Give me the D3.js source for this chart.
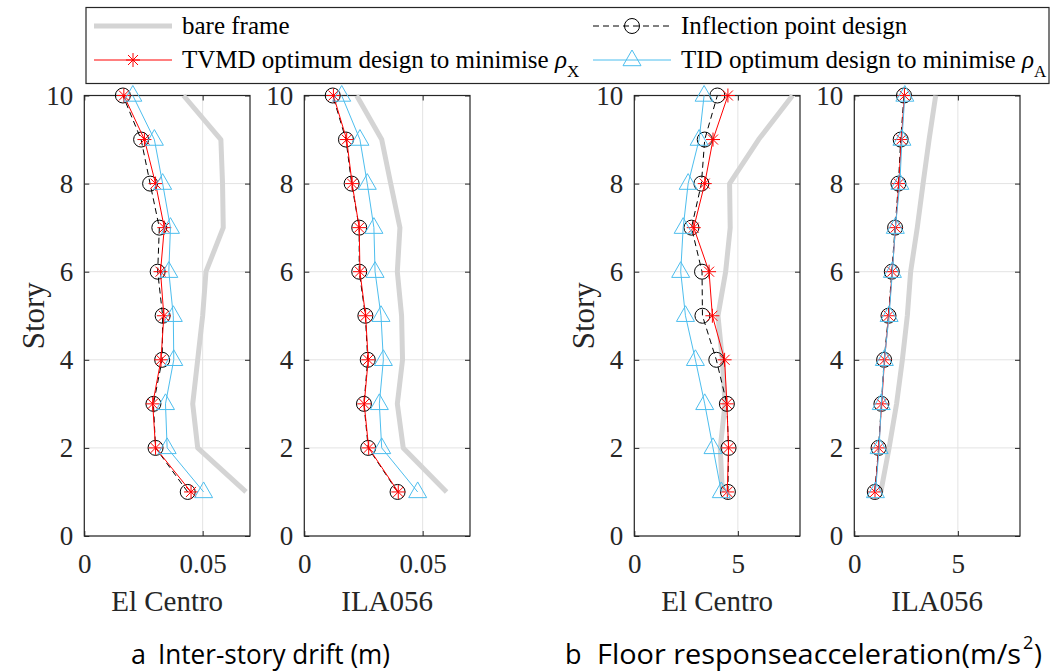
<!DOCTYPE html>
<html><head><meta charset="utf-8">
<script src="https://cdn.jsdelivr.net/npm/d3@7"></script>
<style>body{margin:0;background:#fff}svg{display:block}</style>
</head><body><svg id="c" width="1051" height="672"></svg>
<script>
// ---------- data ----------
const stories = [1,2,3,4,5,6,7,8,9,10];
const seriesNames = ["bare frame","Inflection point design","TVMD optimum design to minimise","TID optimum design to minimise"];
const panelNames = ["El Centro","ILA056","El Centro","ILA056"];
const yTicks = [0,2,4,6,8,10];
const driftTicks = [0,0.05];
const accTicks = [0,5];
const driftTickLabels = ["0","0.05"];
const accTickLabels = ["0","5"];
const captionA = "Inter-story drift (m)";
const captionB = "Floor responseacceleration(m/s";

// Inter-story drift, El Centro (stories 1..10)
const driftElCentroBare  = [0.0683,0.0479,0.0458,0.0479,0.0500,0.0514,0.0587,0.0584,0.0577,0.0419];
const driftElCentroInfl  = [0.0437,0.0301,0.0292,0.0329,0.0331,0.0310,0.0317,0.0278,0.0240,0.0163];
const driftElCentroTVMD  = [0.0451,0.0301,0.0289,0.0324,0.0336,0.0322,0.0338,0.0301,0.0254,0.0167];
const driftElCentroTID   = [0.0504,0.0350,0.0343,0.0378,0.0376,0.0357,0.0364,0.0331,0.0296,0.0205];
// Inter-story drift, ILA056
const driftILABare  = [0.0601,0.0418,0.0393,0.0415,0.0411,0.0393,0.0404,0.0365,0.0327,0.0221];
const driftILAInfl  = [0.0394,0.0270,0.0252,0.0268,0.0258,0.0232,0.0232,0.0200,0.0176,0.0120];
const driftILATVMD  = [0.0397,0.0272,0.0253,0.0270,0.0259,0.0235,0.0232,0.0202,0.0179,0.0123];
const driftILATID   = [0.0479,0.0327,0.0317,0.0334,0.0324,0.0299,0.0294,0.0266,0.0235,0.0158];
// Floor acceleration, El Centro
const accElCentroBare = [4.25,4.15,4.38,4.25,4.04,4.41,4.63,4.60,6.00,7.64];
const accElCentroInfl = [4.52,4.55,4.47,3.96,3.29,3.27,2.76,3.24,3.40,4.01];
const accElCentroTVMD = [4.49,4.55,4.47,4.36,3.77,3.61,2.87,3.40,3.80,4.52];
const accElCentroTID  = [4.20,3.80,3.40,2.95,2.47,2.24,2.36,2.60,3.13,3.37];
// Floor acceleration, ILA056
const accILABare = [1.28,1.68,2.04,2.32,2.56,2.72,3.04,3.32,3.61,3.93];
const accILAInfl = [0.99,1.17,1.31,1.44,1.65,1.81,1.97,2.13,2.24,2.40];
const accILATVMD = [1.00,1.18,1.32,1.46,1.66,1.83,1.99,2.15,2.27,2.42];
const accILATID  = [1.02,1.20,1.30,1.45,1.68,1.84,1.98,2.20,2.30,2.44];

// ---------- layout ----------
const svg = d3.select("#c");
const serif = "'Liberation Serif','Times New Roman',serif";
const yTop = 95.5, yBot = 536, pw = 165.7;
const panels = [
  {x0:84.3,  dom:[0,0.07], ticks:driftTicks, labels:driftTickLabels, story:true,
   data:[driftElCentroBare,driftElCentroInfl,driftElCentroTVMD,driftElCentroTID]},
  {x0:304.3, dom:[0,0.07], ticks:driftTicks, labels:driftTickLabels, story:false,
   data:[driftILABare,driftILAInfl,driftILATVMD,driftILATID]},
  {x0:634.3, dom:[0,8], ticks:accTicks, labels:accTickLabels, story:true,
   data:[accElCentroBare,accElCentroInfl,accElCentroTVMD,accElCentroTID]},
  {x0:854.3, dom:[0,8], ticks:accTicks, labels:accTickLabels, story:false,
   data:[accILABare,accILAInfl,accILATVMD,accILATID]}
];
const styles = [
  {stroke:"#d4d4d4", width:5, dash:null, marker:null},
  {stroke:"#000", width:1, dash:"6,4", marker:"circle"},
  {stroke:"#ff0000", width:1, dash:null, marker:"star"},
  {stroke:"#4dbeee", width:1, dash:null, marker:"tri"}
];
const starPath = "M-7,0H7M0,-7V7M-5,-5L5,5M-5,5L5,-5";
const triPath = "M0,-10L9,5.7L-9,5.7Z";

function drawMarker(g, kind, color, x, y){
  if(kind==="circle") g.append("circle").attr("cx",x).attr("cy",y).attr("r",7.5)
      .attr("fill","none").attr("stroke",color).attr("stroke-width",1);
  else if(kind==="star") g.append("path").attr("d",starPath).attr("transform",`translate(${x},${y})`)
      .attr("fill","none").attr("stroke",color).attr("stroke-width",1);
  else if(kind==="tri") g.append("path").attr("d",triPath).attr("transform",`translate(${x},${y})`)
      .attr("fill","none").attr("stroke",color).attr("stroke-width",1);
}

panels.forEach((p,i)=>{
  const x = d3.scaleLinear().domain(p.dom).range([p.x0, p.x0+pw]);
  const y = d3.scaleLinear().domain([0,10]).range([yBot, yTop]);
  const g = svg.append("g");
  // grid
  g.selectAll(".gx").data(p.ticks).join("line")
    .attr("x1",d=>x(d)).attr("x2",d=>x(d)).attr("y1",yTop).attr("y2",yBot)
    .attr("stroke","#e3e3e3").attr("stroke-width",1);
  g.selectAll(".gy").data(yTicks).join("line")
    .attr("x1",p.x0).attr("x2",p.x0+pw).attr("y1",d=>y(d)).attr("y2",d=>y(d))
    .attr("stroke","#e3e3e3").attr("stroke-width",1);
  // axes
  const ax = (gen, tr)=>{
    const a = g.append("g").attr("transform",tr).call(gen)
      .attr("font-family",serif).attr("font-size",27);
    a.select(".domain").remove();
    a.selectAll("line").attr("stroke","#262626");
    a.selectAll("text").style("font-family",serif).style("font-size","27px").attr("fill","#262626");
    return a;
  };
  ax(d3.axisLeft(y).tickValues(yTicks).tickSize(-5).tickPadding(11), `translate(${p.x0},0)`);
  ax(d3.axisRight(y).tickValues(yTicks).tickSize(-5).tickFormat(""), `translate(${p.x0+pw},0)`);
  ax(d3.axisBottom(x).tickValues(p.ticks).tickSize(-5).tickPadding(18).tickFormat((d,j)=>p.labels[j]), `translate(0,${yBot})`);
  ax(d3.axisTop(x).tickValues(p.ticks).tickSize(-5).tickFormat(""), `translate(0,${yTop})`);
  g.append("rect").attr("x",p.x0).attr("y",yTop).attr("width",pw).attr("height",yBot-yTop)
    .attr("fill","none").attr("stroke","#262626").attr("stroke-width",1.2);
  // series
  const line = d3.line().x(d=>x(d[0])).y(d=>y(d[1]));
  p.data.forEach((vals,k)=>{
    const s = styles[k];
    const pts = vals.map((v,j)=>[v,stories[j]]);
    g.append("path").attr("d",line(pts)).attr("fill","none").attr("stroke",s.stroke)
      .attr("stroke-width",s.width).attr("stroke-dasharray",s.dash)
      .attr("stroke-linejoin","round");
    if(s.marker) pts.forEach(pt=>drawMarker(g,s.marker,s.stroke,x(pt[0]),y(pt[1])));
  });
  // panel name
  g.append("text").attr("x",p.x0+pw/2).attr("y",611).attr("text-anchor","middle")
    .attr("font-family",serif).attr("font-size",29).attr("fill","#262626").text(panelNames[i]);
  if(p.story){
    g.append("text").attr("transform",`translate(${p.x0-40},${(yTop+yBot)/2}) rotate(-90)`)
      .attr("text-anchor","middle").attr("font-family",serif).attr("font-size",31)
      .attr("fill","#262626").text("Story");
  }
});

// ---------- legend ----------
const lg = svg.append("g");
lg.append("rect").attr("x",86).attr("y",7.5).attr("width",963).attr("height",76)
  .attr("fill","#fff").attr("stroke","#262626").attr("stroke-width",1.2);
const legItems = [
  {k:0, x:94, y:26},{k:1, x:593, y:26},{k:2, x:94, y:60},{k:3, x:593, y:60}
];
legItems.forEach(it=>{
  const s = styles[it.k];
  lg.append("line").attr("x1",it.x).attr("x2",it.x+78).attr("y1",it.y).attr("y2",it.y)
    .attr("stroke",s.stroke).attr("stroke-width",s.width).attr("stroke-dasharray",s.dash);
  if(s.marker) drawMarker(lg,s.marker,s.stroke,it.x+39,it.y);
  const t = lg.append("text").attr("x",it.x+88).attr("y",it.y).attr("dy","0.33em")
    .attr("font-family",serif).attr("font-size",25).attr("fill","#000");
  t.append("tspan").text(seriesNames[it.k]);
  if(it.k===2||it.k===3){
    t.append("tspan").text(" ");
    t.append("tspan").attr("font-style","italic").text("ρ");
    t.append("tspan").attr("font-size",17).attr("dy",9).text(it.k===2?"X":"A");
  }
});

// ---------- captions ----------
const sans = "'Open Sans','Noto Sans',sans-serif";
svg.append("text").attr("x",131).attr("y",664).attr("font-family",sans).attr("font-size",27)
  .attr("fill","#000").text("a");
svg.append("text").attr("x",158).attr("y",664).attr("font-family",sans).attr("font-size",27)
  .attr("fill","#000").attr("textLength",232).attr("lengthAdjust","spacingAndGlyphs").text(captionA);
svg.append("text").attr("x",565).attr("y",664).attr("font-family",sans).attr("font-size",27)
  .attr("fill","#000").text("b");
svg.append("text").attr("x",597).attr("y",664).attr("font-family",sans).attr("font-size",27)
  .attr("fill","#000").attr("textLength",424).attr("lengthAdjust","spacingAndGlyphs").text(captionB);
svg.append("text").attr("x",1023).attr("y",649).attr("font-family",sans).attr("font-size",18)
  .attr("fill","#000").text("2");
svg.append("text").attr("x",1034).attr("y",664).attr("font-family",sans).attr("font-size",27)
  .attr("fill","#000").text(")");
</script></body></html>
